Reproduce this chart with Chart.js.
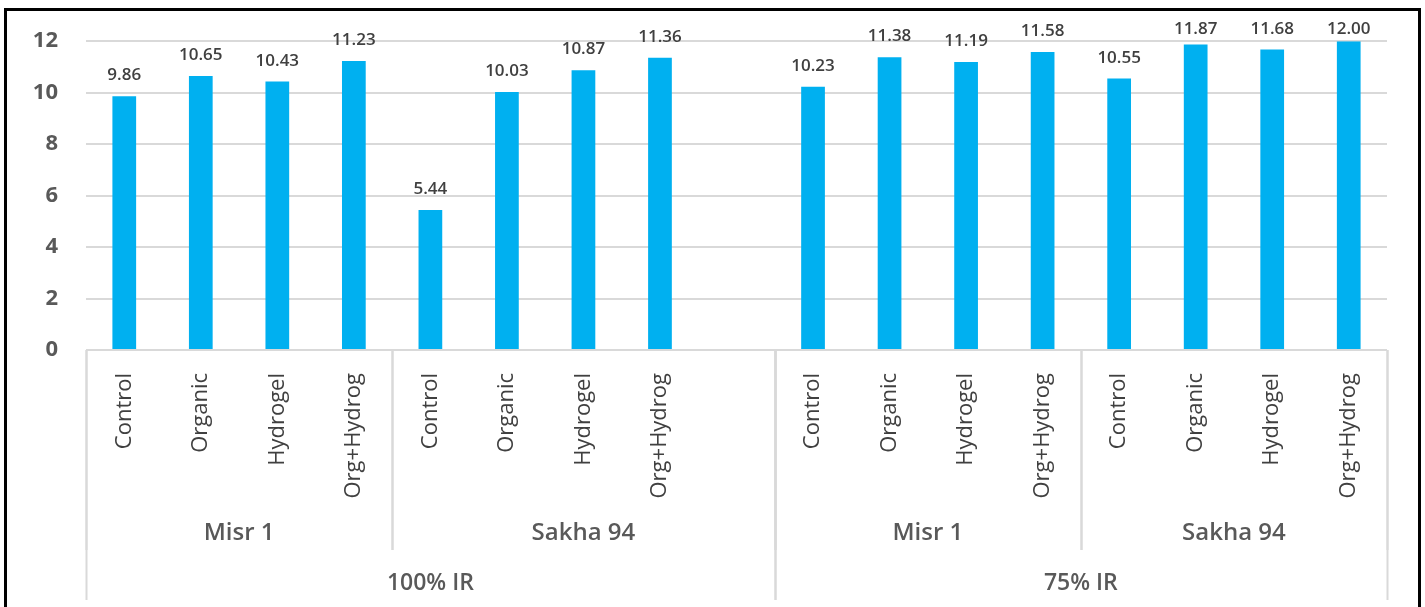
<!DOCTYPE html>
<html>
<head>
<meta charset="utf-8">
<title>Yield by treatment, variety and irrigation level</title>
<script src="https://cdn.jsdelivr.net/npm/chart.js@4.4.1/dist/chart.umd.min.js"></script>
<style>
  html, body { margin: 0; padding: 0; background: #ffffff; }
  canvas { display: block; }
</style>
</head>
<body>
<canvas id="chart" width="1425" height="607"></canvas>
<script>
// Treatments repeated for each variety; the empty slot separates the two irrigation levels.
const treatments = ['Control', 'Organic', 'Hydrogel', 'Org+Hydrog'];
const categories = [...treatments, ...treatments, '', ...treatments, ...treatments];

// Values per category (null = spacer slot)
const misr1Full   = [9.86, 10.65, 10.43, 11.23];
const sakha94Full = [5.44, 10.03, 10.87, 11.36];
const misr1Part   = [10.23, 11.38, 11.19, 11.58];
const sakha94Part = [10.55, 11.87, 11.68, 12.00];
const values = [...misr1Full, ...sakha94Full, null, ...misr1Part, ...sakha94Part];

// Y axis ticks
const yTicks = [0, 2, 4, 6, 8, 10, 12];

// Grouping rows under the category labels (category index ranges, inclusive)
const varietyGroups = [
  { label: 'Misr 1',   from: 0,  to: 3 },
  { label: 'Sakha 94', from: 4,  to: 8 },
  { label: 'Misr 1',   from: 9,  to: 12 },
  { label: 'Sakha 94', from: 13, to: 16 }
];
const irrigationGroups = [
  { label: '100% IR', from: 0, to: 8 },
  { label: '75% IR',  from: 9, to: 16 }
];

const FONT = '"Open Sans", "Liberation Sans", sans-serif';

// Value labels above each bar
const valueLabels = {
  id: 'valueLabels',
  afterDatasetsDraw(chart) {
    const { ctx, chartArea } = chart;
    const meta = chart.getDatasetMeta(0);
    ctx.save();
    ctx.font = '600 17px ' + FONT;
    ctx.fillStyle = '#404040';
    ctx.textAlign = 'center';
    ctx.textBaseline = 'alphabetic';
    meta.data.forEach((bar, i) => {
      const v = values[i];
      if (v == null) return;
      const y = Math.max(bar.y - 16, chartArea.top - 7);
      ctx.fillText(v.toFixed(2), bar.x, y);
    });
    ctx.restore();
  }
};

// Multi-level category axis: separators plus variety and irrigation rows, and the outer frame
const groupAxis = {
  id: 'groupAxis',
  afterDraw(chart) {
    const { ctx, chartArea } = chart;
    const x = chart.scales.x;
    const band = (x.right - x.left) / categories.length;
    const edge = i => x.getPixelForValue(i) - band / 2;
    const base = chartArea.bottom;

    ctx.save();
    ctx.strokeStyle = '#d9d9d9';
    ctx.lineWidth = 2;
    const vline = (px, len) => {
      ctx.beginPath();
      ctx.moveTo(Math.round(px) + 0.5, base);
      ctx.lineTo(Math.round(px) + 0.5, base + len);
      ctx.stroke();
    };
    varietyGroups.forEach(g => { vline(edge(g.from), 200); vline(edge(g.to + 1), 200); });
    irrigationGroups.forEach(g => { vline(edge(g.from), 250); vline(edge(g.to + 1), 250); });

    ctx.fillStyle = '#595959';
    ctx.textAlign = 'center';
    ctx.textBaseline = 'middle';
    ctx.font = '600 24px ' + FONT;
    varietyGroups.forEach(g => {
      ctx.fillText(g.label, (edge(g.from) + edge(g.to + 1)) / 2, base + 183);
    });
    ctx.font = '600 23px ' + FONT;
    irrigationGroups.forEach(g => {
      ctx.fillText(g.label, (edge(g.from) + edge(g.to + 1)) / 2, base + 233);
    });

    // outer frame
    ctx.strokeStyle = '#000000';
    ctx.lineWidth = 3;
    ctx.strokeRect(5.5, 9.5, 1414, 610);
    ctx.restore();
  }
};

const whiteBackground = {
  id: 'whiteBackground',
  beforeDraw(chart) {
    const { ctx, width, height } = chart;
    ctx.save();
    ctx.fillStyle = '#ffffff';
    ctx.fillRect(0, 0, width, height);
    ctx.restore();
  }
};

new Chart(document.getElementById('chart'), {
  type: 'bar',
  data: {
    labels: categories,
    datasets: [{
      data: values,
      backgroundColor: '#00B0F0',
      borderWidth: 0,
      barPercentage: 0.31,
      categoryPercentage: 1
    }]
  },
  options: {
    responsive: false,
    animation: false,
    events: [],
    layout: { padding: { top: 39, right: 38, bottom: 0, left: 0 } },
    plugins: {
      legend: { display: false },
      tooltip: { enabled: false }
    },
    scales: {
      x: {
        offset: true,
        grid: { display: false },
        border: { display: false },
        ticks: {
          autoSkip: false,
          minRotation: 90,
          maxRotation: 90,
          padding: 15,
          color: '#404040',
          font: { family: FONT, size: 22 }
        },
        afterFit(scale) { scale.height = 257; }
      },
      y: {
        min: 0,
        max: 12,
        afterBuildTicks(scale) { scale.ticks = yTicks.map(v => ({ value: v })); },
        grid: { color: '#d9d9d9', lineWidth: 2, drawTicks: false },
        border: { display: false },
        ticks: {
          padding: 28,
          color: '#595959',
          font: { family: FONT, size: 22, weight: 'bold' }
        },
        afterFit(scale) { scale.width = 86; }
      }
    }
  },
  plugins: [whiteBackground, valueLabels, groupAxis]
});
</script>
</body>
</html>
